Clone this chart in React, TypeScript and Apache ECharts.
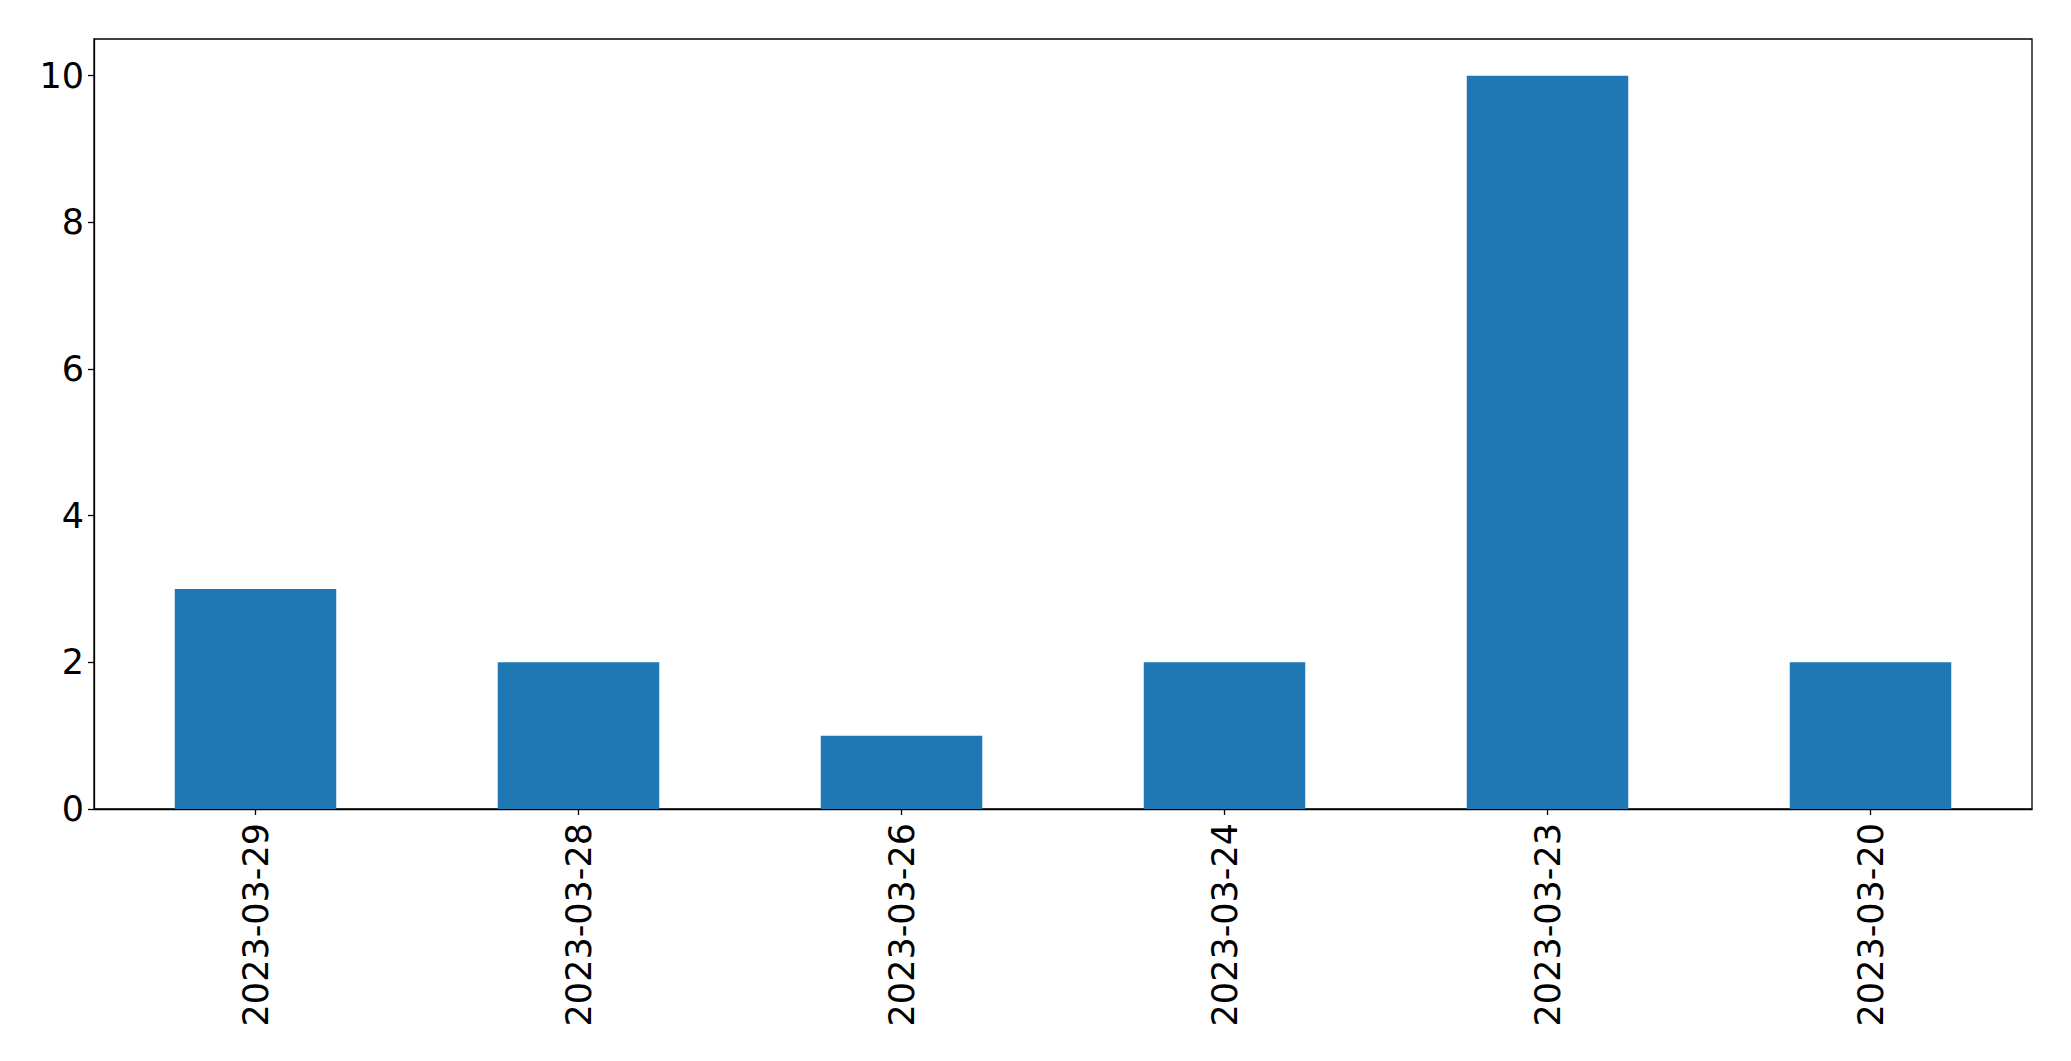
import React, { useEffect, useRef } from "react";
import * as echarts from "echarts";

const categories = ["2023-03-29", "2023-03-28", "2023-03-26", "2023-03-24", "2023-03-23", "2023-03-20"];
const counts = [3, 2, 1, 2, 10, 2];
const yTicks = [0, 2, 4, 6, 8, 10];

export default function App() {
  const ref = useRef<HTMLDivElement>(null);
  useEffect(() => {
    if (!ref.current) return;
    const chart = echarts.init(ref.current, undefined, { renderer: "svg" });
    const font = "DejaVu Sans";
    chart.setOption({
      animation: false,
      backgroundColor: "#ffffff",
      grid: {
        left: 94,
        top: 39,
        right: 39,
        bottom: 252,
        show: true,
        borderColor: "#000000",
        borderWidth: 1.3,
        containLabel: false,
      },
      xAxis: {
        type: "category",
        data: categories,
        axisLine: { show: true, lineStyle: { color: "#000000", width: 1.3 } },
        axisTick: { show: true, alignWithLabel: true, length: 6, lineStyle: { color: "#000000", width: 1.3 } },
        axisLabel: {
          rotate: 90,
          fontSize: 35,
          fontFamily: font,
          color: "#000000",
          margin: 14,
        },
        splitLine: { show: false },
      },
      yAxis: {
        type: "value",
        min: 0,
        max: 10.5,
        interval: 2,
        axisLine: { show: true, lineStyle: { color: "#000000", width: 1.3 } },
        axisTick: { show: true, length: 6, lineStyle: { color: "#000000", width: 1.3 }, customValues: yTicks },
        axisLabel: {
          fontSize: 35,
          fontFamily: font,
          color: "#000000",
          margin: 10,
          customValues: yTicks,
        },
        splitLine: { show: false },
      },
      series: [
        {
          type: "bar",
          data: counts,
          barWidth: "50%",
          itemStyle: { color: "#1f77b4" },
        },
      ],
    });
    return () => chart.dispose();
  }, []);
  return (
    <div
      ref={ref}
      style={{ position: "fixed", left: 0, top: 0, width: 2071, height: 1061, background: "#ffffff" }}
    />
  );
}
